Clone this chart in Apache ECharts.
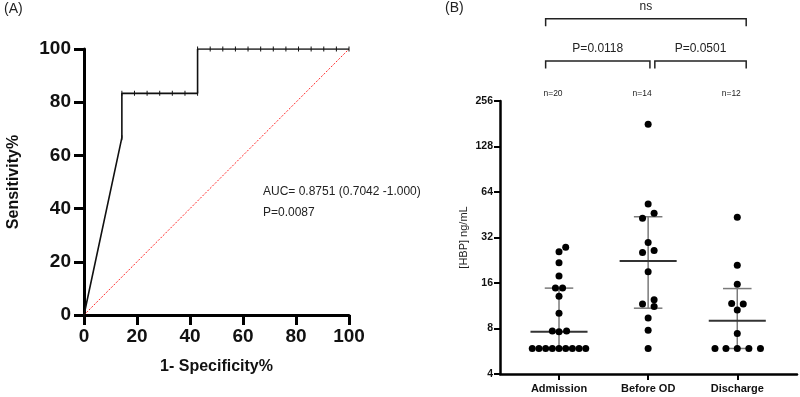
<!DOCTYPE html>
<html>
<head>
<meta charset="utf-8">
<script src="https://cdn.jsdelivr.net/npm/echarts@6/dist/echarts.min.js"></script>
<style>
  html, body { margin: 0; background: #fff; }
  #chart { width: 800px; height: 397px; }
</style>
</head>
<body>
<div id="chart"></div>
<script>
// ---- panel A: ROC curve ----
const rocX = [0, 14.29, 14.29, 19.05, 23.81, 28.57, 33.33, 38.10, 42.86, 42.86,
  47.62, 52.38, 57.14, 61.90, 66.67, 71.43, 76.19, 80.95, 85.71, 90.48, 95.24, 100];
const rocY = [0, 66.67, 83.33, 83.33, 83.33, 83.33, 83.33, 83.33, 83.33, 100,
  100, 100, 100, 100, 100, 100, 100, 100, 100, 100, 100, 100];
const refX = [0, 100];
const refY = [0, 100];

// ---- panel B: HBP by time point ----
const groups = ['Admission', 'Before OD', 'Discharge'];
const groupN = ['n=20', 'n=14', 'n=12'];
const admissionVals = [27.6, 25.8, 21.8, 17.8, 14.8, 14.8, 13.1, 10.1, 7.7, 7.6, 7.7,
  5.9, 5.9, 5.9, 5.9, 5.9, 5.9, 5.9, 5.9, 5.9];
const admissionJitter = [0.075, 0, 0, 0, -0.04, 0.04, 0, 0, -0.075, 0, 0.085,
  -0.3, -0.225, -0.15, -0.075, 0, 0.075, 0.15, 0.225, 0.3];
const beforeVals = [179.5, 53.3, 46.3, 42.9, 29.7, 26.3, 25.5, 19.0, 12.4, 11.6, 11.2, 9.4, 7.8, 5.9];
const beforeJitter = [0, 0, 0.067, -0.063, 0, 0.067, -0.063, 0, 0.067, -0.063, 0.067, 0, 0, 0];
const dischargeVals = [43.5, 21.0, 15.7, 11.7, 11.6, 10.6, 7.4, 5.9, 5.9, 5.9, 5.9, 5.9];
const dischargeJitter = [0, 0, 0, -0.063, 0.067, 0, 0, -0.25, -0.127, 0, 0.13, 0.26];
const medians = [7.6, 22.4, 9.0];
const lowers = [5.9, 10.9, 5.9];
const uppers = [14.8, 43.9, 14.7];
// comparisons: from, to (x units), level
const bracketFrom = [-0.15, 1.075, -0.15];
const bracketTo = [1.02, 2.1, 2.1];
const bracketLevel = [0, 0, 1];
const bracketLabels = ['P=0.0118', 'P=0.0501', 'ns'];

const FONT = '"Liberation Sans", Arial, sans-serif';

const rocData = rocX.map((x, i) => [x, rocY[i]]);
const refData = refX.map((x, i) => [x, refY[i]]);
const dots = [];
[admissionVals, beforeVals, dischargeVals].forEach((vals, g) => {
  const jit = [admissionJitter, beforeJitter, dischargeJitter][g];
  vals.forEach((v, i) => dots.push([g + jit[i], v]));
});

const chart = echarts.init(document.getElementById('chart'), null, { renderer: 'canvas' });

const option = {
  backgroundColor: '#fff',
  animation: false,
  textStyle: { fontFamily: FONT },
  grid: [
    { left: 84, top: 49, width: 265, height: 266, outerBoundsMode: 'none' },
    { left: 500, top: 101, width: 297, height: 273, outerBoundsMode: 'none' }
  ],
  xAxis: [
    {
      type: 'value', gridIndex: 0, min: 0, max: 100, interval: 20,
      name: '1- Specificity%', nameLocation: 'middle', nameGap: 44,
      nameTextStyle: { fontSize: 16, fontWeight: 'bold', color: '#111', fontFamily: FONT },
      axisLine: { show: true, onZero: false, lineStyle: { color: '#000', width: 3 } },
      axisTick: { show: true, length: 10, lineStyle: { color: '#000', width: 3 } },
      axisLabel: { fontSize: 19, fontWeight: 'bold', color: '#111', margin: 12, fontFamily: FONT },
      splitLine: { show: false }
    },
    {
      type: 'value', gridIndex: 1, min: -0.662, max: 2.67,
      axisLine: { show: true, onZero: false, lineStyle: { color: '#000', width: 2.5 } },
      axisTick: { show: true, customValues: [0, 1, 2], length: 6, lineStyle: { color: '#000', width: 2 } },
      axisLabel: {
        customValues: [0, 1, 2], formatter: v => groups[Math.round(v)],
        fontSize: 11, fontWeight: 'bold', color: '#111', margin: 9, fontFamily: FONT
      },
      splitLine: { show: false }
    }
  ],
  yAxis: [
    {
      type: 'value', gridIndex: 0, min: 0, max: 100, interval: 20,
      name: 'Sensitivity%', nameLocation: 'middle', nameGap: 62,
      nameTextStyle: { fontSize: 16, fontWeight: 'bold', color: '#111', fontFamily: FONT },
      axisLine: { show: true, onZero: false, lineStyle: { color: '#000', width: 3 } },
      axisTick: { show: true, length: 10, lineStyle: { color: '#000', width: 3 } },
      axisLabel: { fontSize: 19, fontWeight: 'bold', color: '#111', margin: 13, fontFamily: FONT },
      splitLine: { show: false }
    },
    {
      type: 'log', logBase: 2, gridIndex: 1, min: 4, max: 256,
      name: '[HBP] ng/mL', nameLocation: 'middle', nameGap: 31,
      nameTextStyle: { fontSize: 11, color: '#222', fontFamily: FONT },
      axisLine: { show: true, onZero: false, lineStyle: { color: '#000', width: 2.5 } },
      axisTick: { show: true, length: 6, lineStyle: { color: '#000', width: 2 } },
      axisLabel: {
        formatter: v => String(Math.round(v)),
        fontSize: 10.5, fontWeight: 'bold', color: '#111', margin: 7, fontFamily: FONT
      },
      splitLine: { show: false }
    }
  ],
  graphic: [
    { type: 'text', left: 4, top: 2, style: { text: '(A)', font: '14px ' + FONT, fill: '#222' } },
    { type: 'text', left: 445, top: 1, style: { text: '(B)', font: '14px ' + FONT, fill: '#222' } },
    { type: 'text', left: 263, top: 186, style: { text: 'AUC= 0.8751 (0.7042 -1.000)', font: '12px ' + FONT, fill: '#222' } },
    { type: 'text', left: 263, top: 207, style: { text: 'P=0.0087', font: '12px ' + FONT, fill: '#222' } }
  ],
  series: [
    {
      type: 'line', xAxisIndex: 0, yAxisIndex: 0, data: refData,
      symbol: 'none', lineStyle: { color: '#ff2a2a', width: 1, type: [2, 1.5] }, z: 2
    },
    {
      type: 'line', xAxisIndex: 0, yAxisIndex: 0, data: rocData,
      symbol: 'rect', symbolSize: [1, 5], itemStyle: { color: '#111' },
      lineStyle: { color: '#111', width: 1.6 }, z: 3
    },
    {
      type: 'custom', xAxisIndex: 1, yAxisIndex: 1, z: 1,
      data: groups.map((g, i) => [i, medians[i], lowers[i], uppers[i]]),
      encode: { x: 0, y: [1, 2, 3] },
      renderItem: (params, api) => {
        const i = api.value(0);
        const m = api.coord([i, api.value(1)]);
        const lo = api.coord([i, api.value(2)]);
        const hi = api.coord([i, api.value(3)]);
        const half = api.coord([i + 0.32, 4])[0] - m[0];
        const cap = api.coord([i + 0.16, 4])[0] - m[0];
        const grey = { stroke: '#7a7a7a', lineWidth: 1.5 };
        return {
          type: 'group', children: [
            { type: 'line', shape: { x1: m[0], y1: lo[1], x2: m[0], y2: hi[1] }, style: grey },
            { type: 'line', shape: { x1: m[0] - cap, y1: hi[1], x2: m[0] + cap, y2: hi[1] }, style: grey },
            { type: 'line', shape: { x1: m[0] - cap, y1: lo[1], x2: m[0] + cap, y2: lo[1] }, style: grey },
            { type: 'line', shape: { x1: m[0] - half, y1: m[1], x2: m[0] + half, y2: m[1] }, style: { stroke: '#333', lineWidth: 2 } }
          ]
        };
      }
    },
    {
      type: 'scatter', xAxisIndex: 1, yAxisIndex: 1, data: dots,
      symbol: 'circle', symbolSize: 7, itemStyle: { color: '#000', opacity: 1 }, z: 3
    },
    {
      type: 'custom', xAxisIndex: 1, yAxisIndex: 1, clip: false, z: 4,
      data: bracketLabels.map((l, i) => [bracketFrom[i], bracketTo[i], bracketLevel[i], 256]),
      encode: { x: [0, 1], y: 3 },
      renderItem: (params, api) => {
        const x1 = api.coord([api.value(0), 256])[0];
        const x2 = api.coord([api.value(1), 256])[0];
        const top = api.coord([0, 256])[1];
        const y = top - 40 - api.value(2) * 42.3;
        return {
          type: 'group', children: [
            {
              type: 'polyline',
              shape: { points: [[x1, y + 7.5], [x1, y], [x2, y], [x2, y + 7.5]] },
              style: { stroke: '#222', lineWidth: 1.5, fill: null }
            },
            {
              type: 'text',
              style: {
                text: bracketLabels[params.dataIndex], x: (x1 + x2) / 2, y: y - 12,
                align: 'center', verticalAlign: 'middle', font: '12px ' + FONT, fill: '#222'
              }
            }
          ]
        };
      }
    },
    {
      type: 'custom', xAxisIndex: 1, yAxisIndex: 1, clip: false, z: 4,
      data: groups.map((g, i) => [i, 256]),
      encode: { x: 0, y: 1 },
      renderItem: (params, api) => {
        const p = api.coord([api.value(0), api.value(1)]);
        return {
          type: 'text',
          style: {
            text: groupN[params.dataIndex], x: p[0] - 6, y: p[1] - 7,
            align: 'center', verticalAlign: 'middle', font: '8.5px ' + FONT, fill: '#222'
          }
        };
      }
    }
  ]
};

chart.setOption(option);
</script>
</body>
</html>
